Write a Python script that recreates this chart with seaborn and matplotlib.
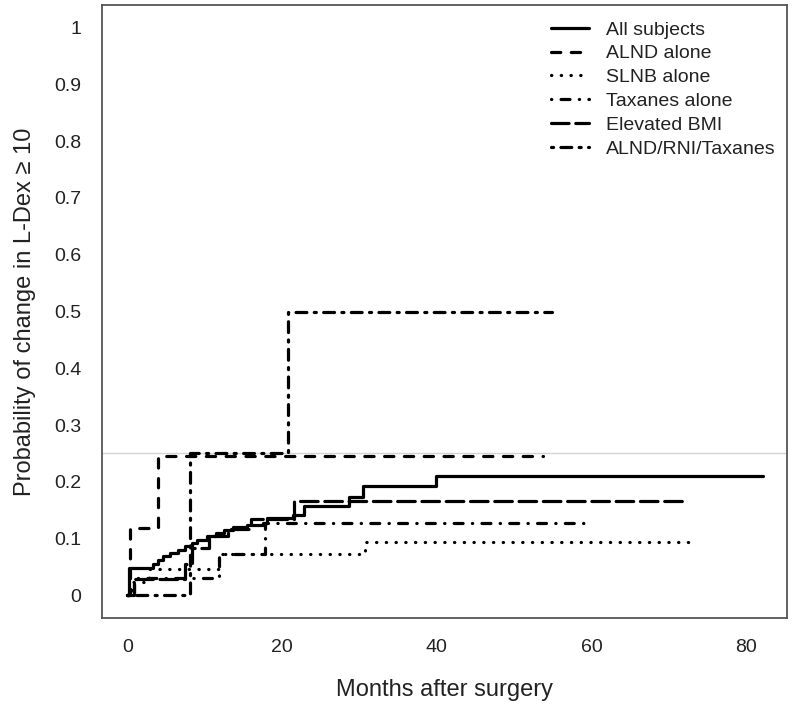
import matplotlib
matplotlib.use("Agg")
import matplotlib.pyplot as plt
import numpy as np
import pandas as pd
import seaborn as sns

# ---------------- data ----------------
groups = ["All subjects", "ALND alone", "SLNB alone", "Taxanes alone",
          "Elevated BMI", "ALND/RNI/Taxanes"]

all_t = [0, 0.2, 3.3, 4.0, 4.6, 5.5, 6.5, 7.4, 8.3, 9.0, 10.3, 11.5, 12.5,
         13.6, 15.5, 17.5, 18.0, 21.4, 22.8, 28.7, 30.4, 39.9, 82.2]
all_p = [0, 0.048, 0.055, 0.062, 0.070, 0.075, 0.080, 0.086, 0.093, 0.098,
         0.104, 0.110, 0.115, 0.120, 0.124, 0.127, 0.137, 0.142, 0.158,
         0.174, 0.193, 0.211, 0.211]

alnd_t = [0, 0.4, 4.0, 53.7]
alnd_p = [0, 0.118, 0.245, 0.245]

slnb_t = [0, 0.6, 2.8, 11.8, 30.7, 73.4]
slnb_p = [0, 0.024, 0.047, 0.072, 0.094, 0.094]

tax_t = [0, 0.8, 11.8, 17.8, 60.0]
tax_p = [0, 0.030, 0.072, 0.128, 0.128]

bmi_t = [0, 0.8, 7.4, 8.3, 10.5, 13.0, 16.0, 21.5, 72.5]
bmi_p = [0, 0.028, 0.056, 0.083, 0.104, 0.116, 0.134, 0.167, 0.167]

art_t = [0, 8.1, 20.8, 54.9]
art_p = [0, 0.25, 0.50, 0.50]

x_ticks = [0, 20, 40, 60, 80]
y_ticks = [0, 0.1, 0.2, 0.3, 0.4, 0.5, 0.6, 0.7, 0.8, 0.9, 1.0]
y_tick_labels = ["0", "0.1", "0.2", "0.3", "0.4", "0.5", "0.6", "0.7",
                 "0.8", "0.9", "1"]
ref_level = 0.25

series = {
    "All subjects": (all_t, all_p),
    "ALND alone": (alnd_t, alnd_p),
    "SLNB alone": (slnb_t, slnb_p),
    "Taxanes alone": (tax_t, tax_p),
    "Elevated BMI": (bmi_t, bmi_p),
    "ALND/RNI/Taxanes": (art_t, art_p),
}

rows = []
for g in groups:
    t, p = series[g]
    for ti, pi in zip(t, p):
        rows.append({"group": g, "month": ti, "prob": pi})
df = pd.DataFrame(rows)

# ---------------- styling ----------------
sns.set_style("white")
plt.rcParams["font.family"] = ["Liberation Sans", "DejaVu Sans"]
plt.rcParams["font.size"] = 14

dash_map = {
    "All subjects": "",
    "ALND alone": (2.9, 3.3),
    "SLNB alone": (0.1, 2.95),
    "Taxanes alone": (0.1, 2.9, 2.8, 2.9),
    "Elevated BMI": (5.5, 2.1),
    "ALND/RNI/Taxanes": (0.65, 2.3, 3.4, 2.3),
}

fig = plt.figure(figsize=(7.92, 7.06), dpi=100)
ax = fig.add_axes([102 / 792, 1 - 618 / 706, 685 / 792, 613 / 706])

ax.axhline(ref_level, color="#d4d4d4", lw=1.0, zorder=1)

sns.lineplot(data=df, x="month", y="prob", style="group", style_order=groups,
             dashes=dash_map, color="black", estimator=None, sort=False,
             drawstyle="steps-post", linewidth=2.3, dash_capstyle="round",
             solid_capstyle="round", ax=ax, legend=False, zorder=3)

ax.set_xlim(-3.28, 85.28)
ax.set_ylim(-0.04, 1.04)
ax.set_xticks(x_ticks)
ax.set_yticks(y_ticks)
ax.set_yticklabels(y_tick_labels)

for s in ax.spines.values():
    s.set_color("#555555")
    s.set_linewidth(1.3)
ax.tick_params(axis="both", direction="out", length=7, width=1.2,
               color="#555555", labelsize=14, labelcolor="#222222", pad=8)

ax.set_xlabel("Months after surgery", fontsize=17, color="#222222", labelpad=17)
ax.set_ylabel("Probability of change in L-Dex \u2265 10", fontsize=17,
              color="#222222", labelpad=13)

line_handles = ax.get_lines()[1:1 + len(groups)]
leg = ax.legend(line_handles, groups, loc="upper left",
                bbox_to_anchor=(0.655, 0.974), frameon=False, fontsize=14,
                handlelength=1.95, handletextpad=0.9, labelspacing=0.32,
                borderpad=0, borderaxespad=0)
for t in leg.get_texts():
    t.set_color("#222222")

fig.savefig("out.png", dpi=100)
